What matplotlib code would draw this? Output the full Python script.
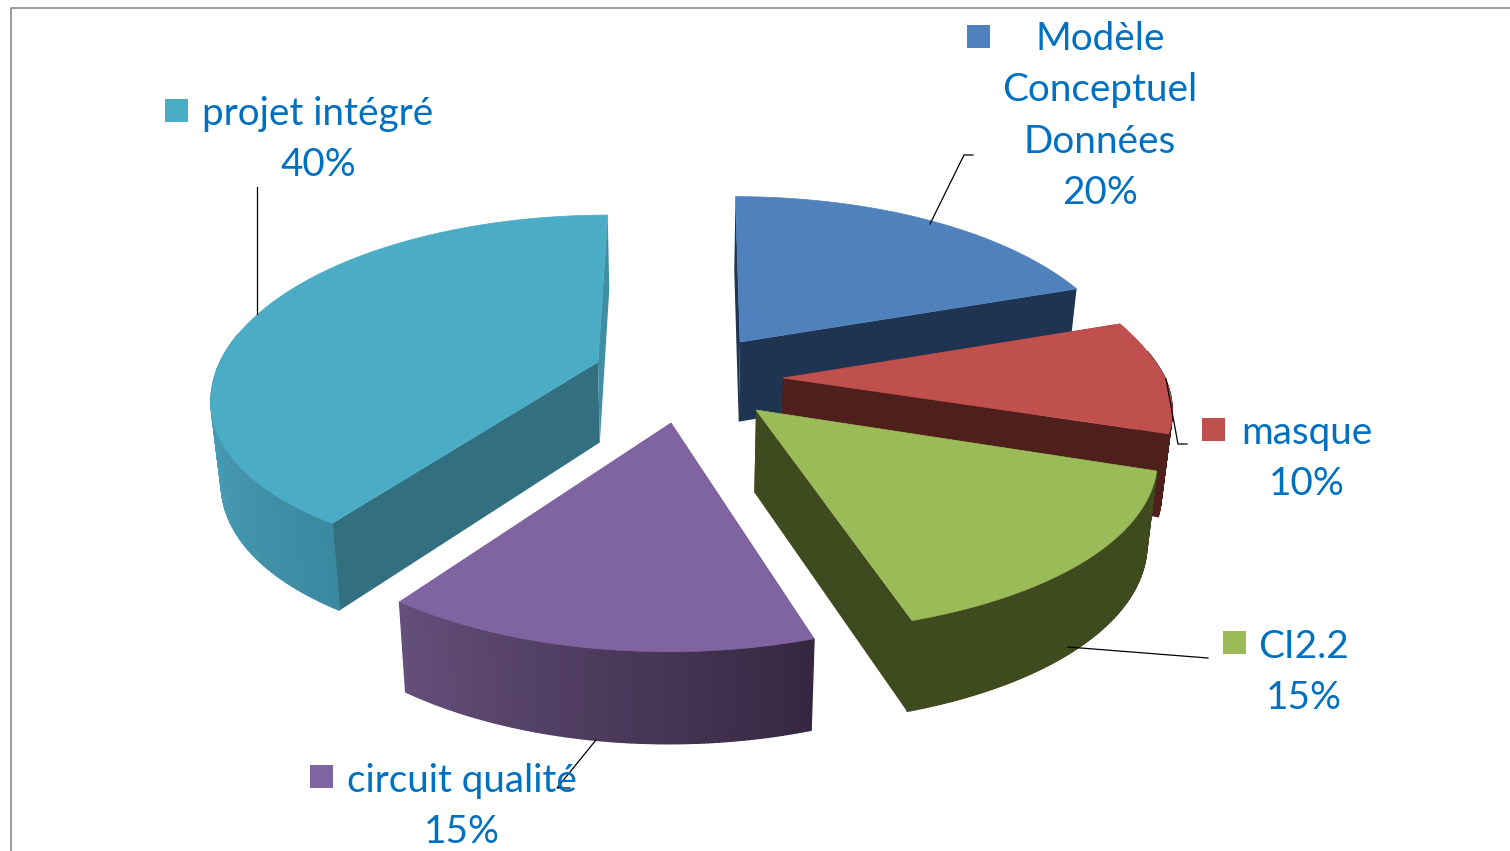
import numpy as np
from matplotlib import pyplot as plt
from matplotlib.patches import Polygon, Rectangle
from matplotlib.colors import to_rgb

# Chart data
labels = ['Modèle\nConceptuel\nDonnées', 'masque', 'CI2.2', 'circuit qualité', 'projet intégré']
values = [20, 10, 15, 15, 40]

# Colours of each slice
top_colors = ['#4f81bd', '#c0504d', '#9bbb59', '#8064a2', '#4bacc6']
start_faces = ['#1e3450', '#4f1f1c', '#404a1f', '#362740', '#326f80']
end_faces = ['#1e3450', '#4f1f1c', '#404a1f', '#644f7b', '#3f8ea3']
rim_from = ['#1e3450', '#4f1f1c', '#404a1f', '#362740', '#3b89a0']
rim_to = ['#1e3450', '#4f1f1c', '#404a1f', '#644f7b', '#4a9fb8']
rim_span = [1, 1, 1, 1, 0.3]

# Where the tip of every exploded slice sits, and how the perspective treats it
tips = [(740, 342), (783, 378), (756, 410), (671, 423), (598, 362)]
rx = [380, 382, 387, 392, 378]
ry = [184, 178, 186, 189, 186]
px = [0.21, 0.175, 0.27, 0.21, 0.20]
py = [0.21, 0.05, 0.20, 0.21, 0.09]
VX = 695


def project(i, t):
    tip = tips[i]
    s = np.sin(t)
    kx = 1 - (0.21 if s > 0 else px[i]) * s
    ky = 1 - (0.21 if (s > 0 and i != 1) else py[i]) * s
    x = tip[0] + rx[i] * np.cos(t) * kx + (VX - tip[0]) * 0.1 * s
    y = tip[1] - ry[i] * s * ky
    return x, y


def drop(x, y):
    # same point on the underside of the pie
    return x + (680 - x) * 0.022, y + 66 + 0.04 * y


def mix(c1, c2, f):
    c1, c2 = np.array(to_rgb(c1)), np.array(to_rgb(c2))
    return tuple(c1 + (c2 - c1) * f)


fig = plt.figure(figsize=(15.1, 8.51), dpi=100)
ax = fig.add_axes([0, 0, 1, 1])
ax.set_xlim(0, 1510)
ax.set_ylim(851, 0)
ax.axis('off')

# Chart frame
ax.plot([11, 11, 1510], [851, 8, 8], color='#8c8c8c', lw=1.2)

# Slice angles, clockwise from twelve o'clock
fracs = np.array(values) / sum(values)
edges = np.pi / 2 - 2 * np.pi * np.concatenate([[0], np.cumsum(fracs)])

# back to front drawing order
for i in [0, 1, 2, 4, 3]:
    tip = tips[i]
    a0, a1 = edges[i], edges[i + 1]
    ts = np.linspace(a0, a1, 120)
    top = [project(i, t) for t in ts]
    base_tip = drop(*tip)

    # cut faces
    ax.add_patch(Polygon([tip, top[0], drop(*top[0]), base_tip], closed=True, fc=start_faces[i], ec='none'))
    ax.add_patch(Polygon([tip, top[-1], drop(*top[-1]), base_tip], closed=True, fc=end_faces[i], ec='none'))

    # rim strips, only the ones facing the viewer
    strips = []
    for j in range(len(ts) - 1):
        if np.sin(ts[j]) > 0.15:
            continue
        p, q = top[j], top[j + 1]
        f = min(1, j / (len(ts) - 2) / rim_span[i])
        strips.append((-np.sin(ts[j]), [p, q, drop(*q), drop(*p)], mix(rim_from[i], rim_to[i], f)))
    for _, pts, col in sorted(strips, key=lambda s: s[0]):
        ax.add_patch(Polygon(pts, closed=True, fc=col, ec=col, lw=1.0))

    # top surface
    ax.add_patch(Polygon([tip] + top, closed=True, fc=top_colors[i], ec=top_colors[i], lw=0.5))

# Leader lines
leaders = [
    ([973, 964, 930], [155, 155, 224]),
    ([1166, 1178, 1187], [379, 444, 444]),
    ([1208, 1068], [658, 647]),
    ([596, 557, 570], [740, 788, 788]),
    ([257, 257], [187, 314]),
]
for lx, ly in leaders:
    ax.plot(lx, ly, color='black', lw=0.9)

# Data labels with their legend keys
label_x = [1100, 1307, 1304, 462, 318]
label_y = [39, 433, 647, 781, 114]
key_x = [967, 1202, 1223, 310, 165]
key_y = [25, 418, 631, 765, 99]
FS = 27.8
for i in range(len(labels)):
    ax.add_patch(Rectangle((key_x[i], key_y[i]), 23, 23, fc=top_colors[i], ec='none'))
    lines = labels[i].split('\n') + [f'{values[i]}%']
    for n, line in enumerate(lines):
        ax.text(label_x[i], label_y[i] + n * 51.3, line, ha='center', va='center',
                color='#0070c0', fontsize=FS, family='Lato')

plt.savefig('out.png', dpi=100)
